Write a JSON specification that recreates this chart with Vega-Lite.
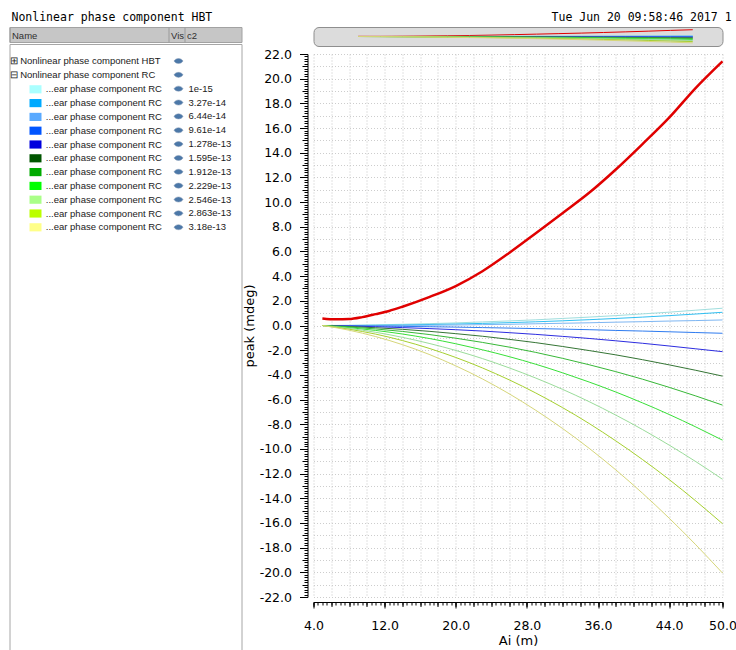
{
"$schema":"https://vega.github.io/schema/vega-lite/v6.json",
"background":"white",
"padding":{"left":8.5,"top":12,"right":0,"bottom":0},
"config":{"view":{"stroke":null}},
"title":{"text":"Nonlinear phase component HBT\u00a0\u00a0\u00a0\u00a0\u00a0\u00a0\u00a0\u00a0\u00a0\u00a0\u00a0\u00a0\u00a0\u00a0\u00a0\u00a0\u00a0\u00a0\u00a0\u00a0\u00a0\u00a0\u00a0\u00a0\u00a0\u00a0\u00a0\u00a0\u00a0\u00a0\u00a0\u00a0\u00a0\u00a0\u00a0\u00a0\u00a0\u00a0\u00a0\u00a0\u00a0\u00a0\u00a0\u00a0\u00a0\u00a0\u00a0\u00a0\u00a0Tue Jun 20 09:58:46 2017 1","anchor":"start","offset":-6,"dx":2.5,"font":"DejaVu Sans Mono","fontSize":11.5,"fontWeight":"normal","color":"#000","baseline":"alphabetic"},
"resolve":{"scale":{"color":"independent","fill":"independent","stroke":"independent"}},
"datasets":{
"curves":[
{"s":"HBT","x":5,"v":0.57},{"s":"HBT","x":6.5,"v":0.5},{"s":"HBT","x":8,"v":0.52},{"s":"HBT","x":9.5,"v":0.68},{"s":"HBT","x":11,"v":0.92},{"s":"HBT","x":12.5,"v":1.18},{"s":"HBT","x":14,"v":1.52},{"s":"HBT","x":17,"v":2.3},{"s":"HBT","x":20,"v":3.2},{"s":"HBT","x":23,"v":4.4},{"s":"HBT","x":26,"v":5.88},{"s":"HBT","x":29,"v":7.48},{"s":"HBT","x":32,"v":9.1},{"s":"HBT","x":35,"v":10.75},{"s":"HBT","x":38,"v":12.64},{"s":"HBT","x":41,"v":14.7},{"s":"HBT","x":44,"v":16.84},{"s":"HBT","x":47,"v":19.26},{"s":"HBT","x":50,"v":21.41},
{"s":"1e-15","x":5,"v":0},{"s":"1e-15","x":8,"v":0.02},{"s":"1e-15","x":11,"v":0.05},{"s":"1e-15","x":14,"v":0.1},{"s":"1e-15","x":17,"v":0.15},{"s":"1e-15","x":20,"v":0.21},{"s":"1e-15","x":23,"v":0.29},{"s":"1e-15","x":26,"v":0.37},{"s":"1e-15","x":29,"v":0.46},{"s":"1e-15","x":32,"v":0.57},{"s":"1e-15","x":35,"v":0.68},{"s":"1e-15","x":38,"v":0.8},{"s":"1e-15","x":41,"v":0.94},{"s":"1e-15","x":44,"v":1.08},{"s":"1e-15","x":47,"v":1.24},{"s":"1e-15","x":50,"v":1.4},
{"s":"3.27e-14","x":5,"v":0},{"s":"3.27e-14","x":8,"v":0},{"s":"3.27e-14","x":11,"v":0.02},{"s":"3.27e-14","x":14,"v":0.04},{"s":"3.27e-14","x":17,"v":0.08},{"s":"3.27e-14","x":20,"v":0.12},{"s":"3.27e-14","x":23,"v":0.17},{"s":"3.27e-14","x":26,"v":0.23},{"s":"3.27e-14","x":29,"v":0.3},{"s":"3.27e-14","x":32,"v":0.38},{"s":"3.27e-14","x":35,"v":0.47},{"s":"3.27e-14","x":38,"v":0.57},{"s":"3.27e-14","x":41,"v":0.68},{"s":"3.27e-14","x":44,"v":0.8},{"s":"3.27e-14","x":47,"v":0.93},{"s":"3.27e-14","x":50,"v":1.07},
{"s":"6.44e-14","x":5,"v":0},{"s":"6.44e-14","x":8,"v":-0.01},{"s":"6.44e-14","x":11,"v":-0.01},{"s":"6.44e-14","x":14,"v":0},{"s":"6.44e-14","x":17,"v":0.02},{"s":"6.44e-14","x":20,"v":0.04},{"s":"6.44e-14","x":23,"v":0.07},{"s":"6.44e-14","x":26,"v":0.1},{"s":"6.44e-14","x":29,"v":0.14},{"s":"6.44e-14","x":32,"v":0.18},{"s":"6.44e-14","x":35,"v":0.22},{"s":"6.44e-14","x":38,"v":0.27},{"s":"6.44e-14","x":41,"v":0.31},{"s":"6.44e-14","x":44,"v":0.36},{"s":"6.44e-14","x":47,"v":0.4},{"s":"6.44e-14","x":50,"v":0.45},
{"s":"9.61e-14","x":5,"v":0},{"s":"9.61e-14","x":8,"v":-0.02},{"s":"9.61e-14","x":11,"v":-0.04},{"s":"9.61e-14","x":14,"v":-0.07},{"s":"9.61e-14","x":17,"v":-0.1},{"s":"9.61e-14","x":20,"v":-0.13},{"s":"9.61e-14","x":23,"v":-0.17},{"s":"9.61e-14","x":26,"v":-0.21},{"s":"9.61e-14","x":29,"v":-0.25},{"s":"9.61e-14","x":32,"v":-0.29},{"s":"9.61e-14","x":35,"v":-0.34},{"s":"9.61e-14","x":38,"v":-0.4},{"s":"9.61e-14","x":41,"v":-0.45},{"s":"9.61e-14","x":44,"v":-0.51},{"s":"9.61e-14","x":47,"v":-0.57},{"s":"9.61e-14","x":50,"v":-0.63},
{"s":"1.278e-13","x":5,"v":0},{"s":"1.278e-13","x":8,"v":-0.04},{"s":"1.278e-13","x":11,"v":-0.1},{"s":"1.278e-13","x":14,"v":-0.17},{"s":"1.278e-13","x":17,"v":-0.25},{"s":"1.278e-13","x":20,"v":-0.34},{"s":"1.278e-13","x":23,"v":-0.45},{"s":"1.278e-13","x":26,"v":-0.58},{"s":"1.278e-13","x":29,"v":-0.72},{"s":"1.278e-13","x":32,"v":-0.88},{"s":"1.278e-13","x":35,"v":-1.05},{"s":"1.278e-13","x":38,"v":-1.24},{"s":"1.278e-13","x":41,"v":-1.44},{"s":"1.278e-13","x":44,"v":-1.66},{"s":"1.278e-13","x":47,"v":-1.89},{"s":"1.278e-13","x":50,"v":-2.12},
{"s":"1.595e-13","x":5,"v":0},{"s":"1.595e-13","x":8,"v":-0.08},{"s":"1.595e-13","x":11,"v":-0.18},{"s":"1.595e-13","x":14,"v":-0.31},{"s":"1.595e-13","x":17,"v":-0.47},{"s":"1.595e-13","x":20,"v":-0.66},{"s":"1.595e-13","x":23,"v":-0.87},{"s":"1.595e-13","x":26,"v":-1.12},{"s":"1.595e-13","x":29,"v":-1.39},{"s":"1.595e-13","x":32,"v":-1.7},{"s":"1.595e-13","x":35,"v":-2.03},{"s":"1.595e-13","x":38,"v":-2.38},{"s":"1.595e-13","x":41,"v":-2.77},{"s":"1.595e-13","x":44,"v":-3.19},{"s":"1.595e-13","x":47,"v":-3.63},{"s":"1.595e-13","x":50,"v":-4.1},
{"s":"1.912e-13","x":5,"v":0},{"s":"1.912e-13","x":8,"v":-0.12},{"s":"1.912e-13","x":11,"v":-0.28},{"s":"1.912e-13","x":14,"v":-0.48},{"s":"1.912e-13","x":17,"v":-0.73},{"s":"1.912e-13","x":20,"v":-1.03},{"s":"1.912e-13","x":23,"v":-1.37},{"s":"1.912e-13","x":26,"v":-1.75},{"s":"1.912e-13","x":29,"v":-2.18},{"s":"1.912e-13","x":32,"v":-2.66},{"s":"1.912e-13","x":35,"v":-3.18},{"s":"1.912e-13","x":38,"v":-3.74},{"s":"1.912e-13","x":41,"v":-4.35},{"s":"1.912e-13","x":44,"v":-5.01},{"s":"1.912e-13","x":47,"v":-5.71},{"s":"1.912e-13","x":50,"v":-6.45},
{"s":"2.229e-13","x":5,"v":0},{"s":"2.229e-13","x":8,"v":-0.17},{"s":"2.229e-13","x":11,"v":-0.4},{"s":"2.229e-13","x":14,"v":-0.69},{"s":"2.229e-13","x":17,"v":-1.05},{"s":"2.229e-13","x":20,"v":-1.48},{"s":"2.229e-13","x":23,"v":-1.97},{"s":"2.229e-13","x":26,"v":-2.52},{"s":"2.229e-13","x":29,"v":-3.14},{"s":"2.229e-13","x":32,"v":-3.83},{"s":"2.229e-13","x":35,"v":-4.58},{"s":"2.229e-13","x":38,"v":-5.39},{"s":"2.229e-13","x":41,"v":-6.27},{"s":"2.229e-13","x":44,"v":-7.21},{"s":"2.229e-13","x":47,"v":-8.22},{"s":"2.229e-13","x":50,"v":-9.29},
{"s":"2.546e-13","x":5,"v":0},{"s":"2.546e-13","x":8,"v":-0.23},{"s":"2.546e-13","x":11,"v":-0.55},{"s":"2.546e-13","x":14,"v":-0.96},{"s":"2.546e-13","x":17,"v":-1.45},{"s":"2.546e-13","x":20,"v":-2.02},{"s":"2.546e-13","x":23,"v":-2.68},{"s":"2.546e-13","x":26,"v":-3.43},{"s":"2.546e-13","x":29,"v":-4.26},{"s":"2.546e-13","x":32,"v":-5.17},{"s":"2.546e-13","x":35,"v":-6.17},{"s":"2.546e-13","x":38,"v":-7.26},{"s":"2.546e-13","x":41,"v":-8.43},{"s":"2.546e-13","x":44,"v":-9.69},{"s":"2.546e-13","x":47,"v":-11.03},{"s":"2.546e-13","x":50,"v":-12.46},
{"s":"2.863e-13","x":5,"v":0},{"s":"2.863e-13","x":8,"v":-0.3},{"s":"2.863e-13","x":11,"v":-0.7},{"s":"2.863e-13","x":14,"v":-1.22},{"s":"2.863e-13","x":17,"v":-1.85},{"s":"2.863e-13","x":20,"v":-2.59},{"s":"2.863e-13","x":23,"v":-3.44},{"s":"2.863e-13","x":26,"v":-4.4},{"s":"2.863e-13","x":29,"v":-5.47},{"s":"2.863e-13","x":32,"v":-6.65},{"s":"2.863e-13","x":35,"v":-7.94},{"s":"2.863e-13","x":38,"v":-9.35},{"s":"2.863e-13","x":41,"v":-10.86},{"s":"2.863e-13","x":44,"v":-12.48},{"s":"2.863e-13","x":47,"v":-14.22},{"s":"2.863e-13","x":50,"v":-16.06},
{"s":"3.18e-13","x":5,"v":0},{"s":"3.18e-13","x":8,"v":-0.38},{"s":"3.18e-13","x":11,"v":-0.9},{"s":"3.18e-13","x":14,"v":-1.55},{"s":"3.18e-13","x":17,"v":-2.34},{"s":"3.18e-13","x":20,"v":-3.27},{"s":"3.18e-13","x":23,"v":-4.33},{"s":"3.18e-13","x":26,"v":-5.53},{"s":"3.18e-13","x":29,"v":-6.87},{"s":"3.18e-13","x":32,"v":-8.34},{"s":"3.18e-13","x":35,"v":-9.95},{"s":"3.18e-13","x":38,"v":-11.7},{"s":"3.18e-13","x":41,"v":-13.59},{"s":"3.18e-13","x":44,"v":-15.61},{"s":"3.18e-13","x":47,"v":-17.77},{"s":"3.18e-13","x":50,"v":-20.06}
],
"rc":[{"c2":"1e-15"},{"c2":"3.27e-14"},{"c2":"6.44e-14"},{"c2":"9.61e-14"},{"c2":"1.278e-13"},{"c2":"1.595e-13"},{"c2":"1.912e-13"},{"c2":"2.229e-13"},{"c2":"2.546e-13"},{"c2":"2.863e-13"},{"c2":"3.18e-13"}],
"keys":[{"k":"HBT"},{"k":"RC"},{"k":"1e-15"},{"k":"3.27e-14"},{"k":"6.44e-14"},{"k":"9.61e-14"},{"k":"1.278e-13"},{"k":"1.595e-13"},{"k":"1.912e-13"},{"k":"2.229e-13"},{"k":"2.546e-13"},{"k":"2.863e-13"},{"k":"3.18e-13"}]
},
"spacing":0,
"hconcat":[
{
"spacing":0,
"vconcat":[
{"width":232,"height":15,"data":{"values":[]},"view":{"fill":"#c6c6c6","stroke":"#a2a2a2"},
"mark":"point",
"encoding":{"x":{"field":"p","type":"quantitative","scale":{"domain":[0,232],"nice":false,"zero":false},
"axis":{"orient":"bottom","offset":-13,"values":[0,159,175],"labelExpr":"datum.value < 100 ? 'Name' : datum.value < 170 ? 'Vis' : 'c2'","labelAlign":"left","labelBaseline":"top","labelPadding":1,"labelOffset":2,"ticks":false,"tickSize":0,"domain":false,"grid":true,"gridColor":"#9a9a9a","labelFont":"Liberation Sans","labelFontSize":9.5,"labelColor":"#303030","title":null,"labelFlush":false,"labelOverlap":false}}}},
{"width":232,"height":606,"view":{"fill":"white","stroke":"#a6a6a6"},
"layer":[
{"data":{"name":"rc"},"mark":{"type":"square","filled":true,"opacity":0},
"encoding":{"fill":{"field":"c2","type":"nominal",
"scale":{"domain":["1e-15","3.27e-14","6.44e-14","9.61e-14","1.278e-13","1.595e-13","1.912e-13","2.229e-13","2.546e-13","2.863e-13","3.18e-13"],
"range":["#aaffff","#00aaff","#5aaaff","#0055ff","#0000dd","#005500","#00aa00","#00ff00","#aaff88","#bbff00","#ffff88"]},
"legend":{"orient":"none","legendX":0,"legendY":29,"direction":"vertical",
"title":["⊞ Nonlinear phase component HBT","⊟ Nonlinear phase component RC"],
"titleFont":"Liberation Sans","titleFontSize":9.5,"titleFontWeight":"normal","titleColor":"#1a1a1a","titleLineHeight":13.8,"titlePadding":4,"titleLimit":230,
"symbolType":"M-1,-0.68H1V0.68H-1Z","symbolSize":144,"symbolStrokeWidth":0,"symbolOpacity":1,"symbolOffset":20,
"labelExpr":"'...ear phase component RC'","labelFont":"Liberation Sans","labelFontSize":9.5,"labelColor":"#1a1a1a","labelOffset":4.3,"labelLimit":200,
"rowPadding":2.8,"padding":0,"offset":0}}}},
{"data":{"name":"keys"},"mark":{"type":"square","filled":true,"opacity":0},
"encoding":{"stroke":{"field":"k","type":"nominal",
"scale":{"domain":["HBT","RC","1e-15","3.27e-14","6.44e-14","9.61e-14","1.278e-13","1.595e-13","1.912e-13","2.229e-13","2.546e-13","2.863e-13","3.18e-13"],"range":["#8298b4"]},
"legend":{"orient":"none","legendX":164,"legendY":29,"direction":"vertical","title":null,
"symbolType":"M-1,0C-0.6,-0.75,0.6,-0.75,1,0C0.6,0.75,-0.6,0.75,-1,0Z","symbolSize":81,"symbolStrokeWidth":0.5,"symbolFillColor":"#8298b4","symbolOpacity":1,
"labelExpr":"datum.value == 'HBT' || datum.value == 'RC' ? ' ' : datum.value","labelFont":"Liberation Sans","labelFontSize":9.5,"labelColor":"#1a1a1a","labelOffset":5,
"rowPadding":3.85,"padding":0,"offset":0}}}}
]}
]
},
{
"spacing":1,
"vconcat":[
{"width":409,"height":19,"data":{"name":"curves"},"view":{"fill":"#dcdcdc","stroke":"#8e8e8e","cornerRadius":5},
"mark":{"type":"line","strokeWidth":1},
"encoding":{"x":{"field":"x","type":"quantitative","scale":{"domain":[-1,54],"nice":false,"zero":false},"axis":null},
"y":{"field":"v","type":"quantitative","scale":{"domain":[-30,30],"nice":false,"zero":false},"axis":null},
"color":{"field":"s","type":"nominal","scale":{"domain":["HBT","1e-15","3.27e-14","6.44e-14","9.61e-14","1.278e-13","1.595e-13","1.912e-13","2.229e-13","2.546e-13","2.863e-13","3.18e-13"],"range":["#e00000","#a0dede","#30bff2","#7eb6f2","#2f7cf0","#2d2de0","#357535","#38b838","#38e038","#9adc9a","#a6d030","#d6d67a"]},"legend":null}}},
{"width":409,"height":543,"data":{"name":"curves"},
"resolve":{"axis":{"x":"independent","y":"independent"}},
"layer":[
{"transform":[{"filter":"datum.s != 'HBT'"}],
"mark":{"type":"line","strokeWidth":1,"interpolate":"monotone"},
"encoding":{
"x":{"field":"x","type":"quantitative","scale":{"domain":[4,50],"nice":false,"zero":false},
"axis":{"orient":"bottom","grid":true,"gridColor":"#c4c4c4","gridDash":[1,2],"tickCount":23,"ticks":false,"labels":false,"domain":false,"title":null}},
"y":{"field":"v","type":"quantitative","scale":{"domain":[-22,22],"nice":false,"zero":false},
"axis":{"orient":"left","grid":true,"gridColor":"#cdcdcd","gridDash":[1,2],"tickCount":44,"ticks":false,"labels":false,"domain":false,"title":null}},
"color":{"field":"s","type":"nominal","scale":{"domain":["HBT","1e-15","3.27e-14","6.44e-14","9.61e-14","1.278e-13","1.595e-13","1.912e-13","2.229e-13","2.546e-13","2.863e-13","3.18e-13"],"range":["#e00000","#a0dede","#30bff2","#7eb6f2","#2f7cf0","#2d2de0","#357535","#38b838","#38e038","#9adc9a","#a6d030","#d6d67a"]},"legend":null}}},
{"transform":[{"filter":"datum.s == 'HBT'"}],
"mark":{"type":"line","strokeWidth":2.5,"interpolate":"monotone"},
"encoding":{
"x":{"field":"x","type":"quantitative","scale":{"domain":[4,50],"nice":false,"zero":false},
"axis":{"orient":"bottom","values":[4,12,20,28,36,44,50],"labelExpr":"format(datum.value,'.1f')","offset":5,"tickSize":6,"tickColor":"#000","domainColor":"#000","labelFont":"DejaVu Sans","labelFontSize":12.5,"labelColor":"#000","labelPadding":11,"grid":false,"labelFlush":false,"labelOverlap":false,"title":"Ai (m)","titleFont":"DejaVu Sans","titleFontSize":13,"titleFontWeight":"normal","titleColor":"#000","titlePadding":3}},
"y":{"field":"v","type":"quantitative","scale":{"domain":[-22,22],"nice":false,"zero":false},
"axis":{"orient":"left","tickCount":22,"labelExpr":"replace(format(datum.value,'.1f'),'\u2212','-')","offset":6,"tickSize":8,"tickColor":"#000","domainColor":"#000","labelFont":"DejaVu Sans","labelFontSize":12.5,"labelColor":"#000","labelPadding":8,"grid":false,"labelOverlap":false,"title":"peak (mdeg)","titleFont":"DejaVu Sans","titleFontSize":13,"titleFontWeight":"normal","titleColor":"#000","titlePadding":3}},
"color":{"field":"s","type":"nominal","legend":null}}},
{"transform":[{"filter":"false"}],
"mark":{"type":"line"},
"encoding":{
"x":{"field":"x","type":"quantitative","scale":{"domain":[4,50],"nice":false,"zero":false},
"axis":{"orient":"bottom","tickCount":92,"offset":5,"tickSize":3,"tickColor":"#000","labels":false,"domain":false,"grid":false,"title":null}},
"y":{"field":"v","type":"quantitative","scale":{"domain":[-22,22],"nice":false,"zero":false},
"axis":{"orient":"left","tickCount":220,"offset":6,"tickSize":3.5,"tickColor":"#000","labels":false,"domain":false,"grid":false,"title":null}}}},
{"transform":[{"filter":"false"}],
"mark":{"type":"line"},
"encoding":{
"x":{"field":"x","type":"quantitative","scale":{"domain":[4,50],"nice":false,"zero":false},
"axis":{"orient":"bottom","tickCount":23,"offset":5,"tickSize":4.5,"tickColor":"#000","labels":false,"domain":false,"grid":false,"title":null}},
"y":{"field":"v","type":"quantitative","scale":{"domain":[-22,22],"nice":false,"zero":false},
"axis":{"orient":"left","tickCount":44,"offset":6,"tickSize":5.5,"tickColor":"#000","labels":false,"domain":false,"grid":false,"title":null}}}}
]}
]
}
]
}
